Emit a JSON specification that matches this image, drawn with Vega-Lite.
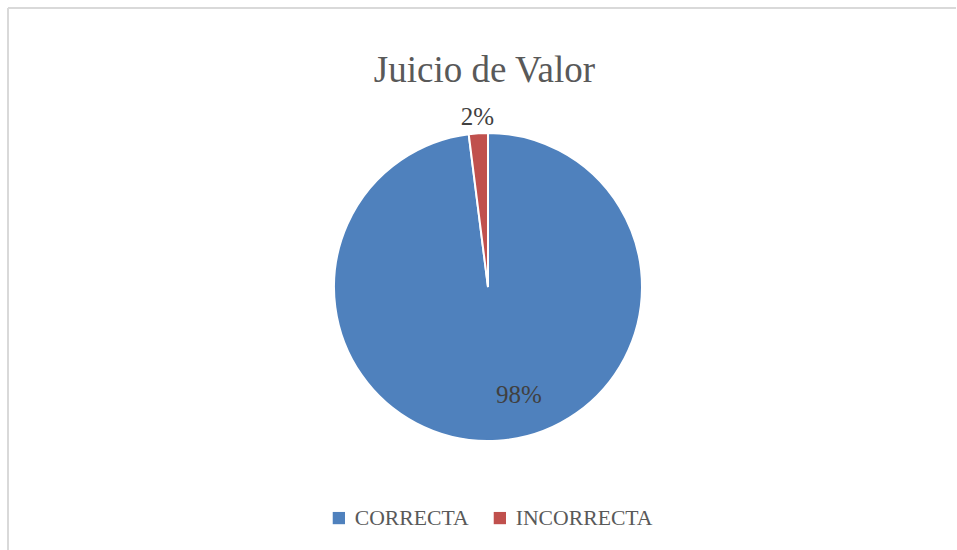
{
  "$schema": "https://vega.github.io/schema/vega-lite/v6.json",
  "width": 948,
  "height": 542,
  "autosize": {"type": "none"},
  "padding": {"left": 8, "top": 8, "right": 0, "bottom": 0},
  "background": "white",
  "config": {"view": {"stroke": null}},
  "title": {
    "text": "Juicio de Valor",
    "font": "Liberation Serif",
    "fontSize": 37,
    "fontWeight": "normal",
    "color": "#595959",
    "anchor": "middle",
    "frame": "group",
    "baseline": "alphabetic",
    "offset": -112,
    "dx": 2.5
  },
  "data": {
    "values": [
      {"respuesta": "CORRECTA", "proporcion": 0.98},
      {"respuesta": "INCORRECTA", "proporcion": 0.02}
    ]
  },
  "layer": [
    {
      "mark": {"type": "rule", "stroke": "#D9D9D9", "strokeWidth": 2},
      "encoding": {"x": {"value": 0}}
    },
    {
      "mark": {"type": "rule", "stroke": "#D9D9D9", "strokeWidth": 2},
      "encoding": {"y": {"value": 0}}
    },
    {
      "mark": {"type": "arc", "outerRadius": 154, "stroke": "white", "strokeWidth": 2, "xOffset": 6, "yOffset": 8},
      "encoding": {
        "theta": {"field": "proporcion", "type": "quantitative", "stack": true},
        "order": {"field": "respuesta", "sort": "ascending"},
        "color": {
          "field": "respuesta",
          "type": "nominal",
          "scale": {"domain": ["CORRECTA", "INCORRECTA"], "range": ["#4F81BD", "#C0504D"]},
          "legend": {
            "orient": "none",
            "legendX": 320,
            "legendY": 499,
            "direction": "horizontal",
            "title": null,
            "symbolType": "square",
            "symbolSize": 150,
            "symbolStrokeWidth": 0,
            "symbolOpacity": 1,
            "labelFont": "Liberation Serif",
            "labelFontSize": 21.7,
            "labelColor": "#595959",
            "labelOffset": 5,
            "columnPadding": 20,
            "padding": 0
          }
        }
      }
    },
    {
      "mark": {"type": "text", "radius": 170, "xOffset": 6, "yOffset": 8, "font": "Liberation Serif", "fontSize": 25, "fill": "#404040"},
      "encoding": {
        "theta": {"field": "proporcion", "type": "quantitative", "stack": true},
        "order": {"field": "respuesta", "sort": "ascending"},
        "text": {"field": "proporcion", "type": "quantitative", "format": ".0%"},
        "opacity": {"condition": {"test": "datum.respuesta === 'INCORRECTA'", "value": 1}, "value": 0}
      }
    },
    {
      "mark": {"type": "text", "radius": 108, "dx": 24, "xOffset": 6, "yOffset": 8, "font": "Liberation Serif", "fontSize": 25, "fill": "#404040"},
      "encoding": {
        "theta": {"field": "proporcion", "type": "quantitative", "stack": true},
        "order": {"field": "respuesta", "sort": "ascending"},
        "text": {"field": "proporcion", "type": "quantitative", "format": ".0%"},
        "opacity": {"condition": {"test": "datum.respuesta === 'CORRECTA'", "value": 1}, "value": 0}
      }
    }
  ]
}
